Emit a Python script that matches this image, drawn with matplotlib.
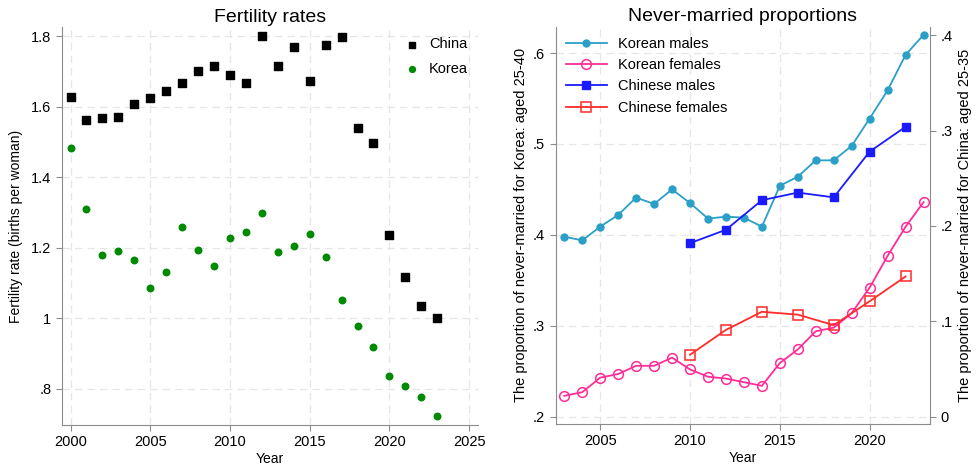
import matplotlib.pyplot as plt

plt.rcParams['font.family'] = ['Liberation Sans', 'DejaVu Sans']

# Fertility rates
years_fr = list(range(2000, 2024))
china_fr = [1.629, 1.564, 1.568, 1.571, 1.607, 1.626, 1.645, 1.668, 1.703, 1.716,
            1.689, 1.669, 1.800, 1.716, 1.771, 1.672, 1.774, 1.797, 1.540, 1.498,
            1.237, 1.118, 1.035, 1.000]
korea_fr = [1.482, 1.310, 1.179, 1.192, 1.165, 1.086, 1.133, 1.260, 1.193, 1.150,
            1.227, 1.246, 1.298, 1.188, 1.206, 1.240, 1.173, 1.053, 0.978, 0.919,
            0.838, 0.808, 0.778, 0.722]

# Never-married proportions
years_kr = list(range(2003, 2024))
kr_males = [0.398, 0.394, 0.409, 0.422, 0.441, 0.434, 0.450, 0.435, 0.418, 0.420,
            0.419, 0.409, 0.454, 0.464, 0.482, 0.482, 0.498, 0.528, 0.559, 0.598, 0.620]
kr_females = [0.223, 0.227, 0.243, 0.247, 0.256, 0.256, 0.265, 0.252, 0.244, 0.242,
              0.238, 0.234, 0.259, 0.274, 0.294, 0.298, 0.314, 0.342, 0.377, 0.409, 0.436]
years_cn = [2010, 2012, 2014, 2016, 2018, 2020, 2022]
cn_males = [0.182, 0.196, 0.227, 0.235, 0.230, 0.278, 0.304]
cn_females = [0.065, 0.091, 0.110, 0.107, 0.096, 0.121, 0.147]

spine_col = '#8c8c8c'
grid_kw = dict(color='#e6e6e6', linestyle=(0, (6, 4)), linewidth=0.9)

fig = plt.figure(figsize=(9.8, 4.68), dpi=100)

# left panel
ax1 = fig.add_axes([0.063, 0.092, 0.425, 0.850])
ax1.scatter(years_fr, china_fr, marker='s', s=30, color='black', label='China', zorder=3)
ax1.scatter(years_fr, korea_fr, marker='o', s=22, color='#008a00', label='Korea', zorder=3)
ax1.set_xlim(1999.45, 2025.57)
ax1.set_ylim(0.698, 1.826)
ax1.set_xticks(range(2000, 2026, 5))
ax1.set_yticks([0.8, 1.0, 1.2, 1.4, 1.6, 1.8])
ax1.set_yticklabels(['.8', '1', '1.2', '1.4', '1.6', '1.8'])
ax1.grid(True, **grid_kw)
ax1.set_axisbelow(True)
ax1.set_title('Fertility rates', fontsize=14, pad=4)
ax1.set_xlabel('Year', fontsize=10, labelpad=2)
ax1.set_ylabel('Fertility rate (births per woman)', fontsize=10, labelpad=6)
ax1.legend(loc='upper right', frameon=False, fontsize=10.5, handletextpad=0.2,
           borderaxespad=0.3, labelspacing=0.7, markerscale=0.9)

# right panel
ax2 = fig.add_axes([0.567, 0.094, 0.382, 0.849])
ax3 = ax2.twinx()
l1, = ax2.plot(years_kr, kr_males, '-o', color='#2a9fc8', ms=5, lw=1.3, label='Korean males')
l2, = ax2.plot(years_kr, kr_females, '-o', color='#ff2d96', ms=7, lw=1.3,
               mfc='none', mew=1.1, label='Korean females')
l3, = ax3.plot(years_cn, cn_males, '-s', color='#1a1aff', ms=5.5, lw=1.3, label='Chinese males')
l4, = ax3.plot(years_cn, cn_females, '-s', color='#ff2a2a', ms=7, lw=1.3,
               mfc='none', mew=1.1, label='Chinese females')
ax2.set_xlim(2002.52, 2023.36)
ax2.set_ylim(0.192, 0.629)
ax3.set_ylim(-0.0077, 0.409)
ax2.set_xticks(range(2005, 2021, 5))
ax2.set_yticks([0.2, 0.3, 0.4, 0.5, 0.6])
ax2.set_yticklabels(['.2', '.3', '.4', '.5', '.6'])
ax3.set_yticks([0, 0.1, 0.2, 0.3, 0.4])
ax3.set_yticklabels(['0', '.1', '.2', '.3', '.4'])
ax2.grid(True, **grid_kw)
ax2.set_axisbelow(True)
ax2.set_title('Never-married proportions', fontsize=14, pad=4)
ax2.set_xlabel('Year', fontsize=10, labelpad=2)
ax2.set_ylabel('The proportion of never-married for Korea: aged 25-40', fontsize=10.5)
ax3.set_ylabel('The proportion of never-married for China: aged 25-35', fontsize=10.5)
ax2.legend(handles=[l1, l2, l3, l4], loc='upper left', frameon=False, fontsize=10.5,
           handlelength=2.8, borderaxespad=0.3, labelspacing=0.5)

for ax in (ax1, ax2, ax3):
    ax.spines['top'].set_visible(False)
    ax.tick_params(labelsize=10.5, color=spine_col, length=4)
    for s in ax.spines.values():
        s.set_color(spine_col)
ax1.spines['right'].set_visible(False)
ax2.spines['right'].set_visible(False)
ax3.spines['left'].set_visible(False)
ax3.spines['bottom'].set_visible(False)

fig.savefig('out.png', dpi=100)
